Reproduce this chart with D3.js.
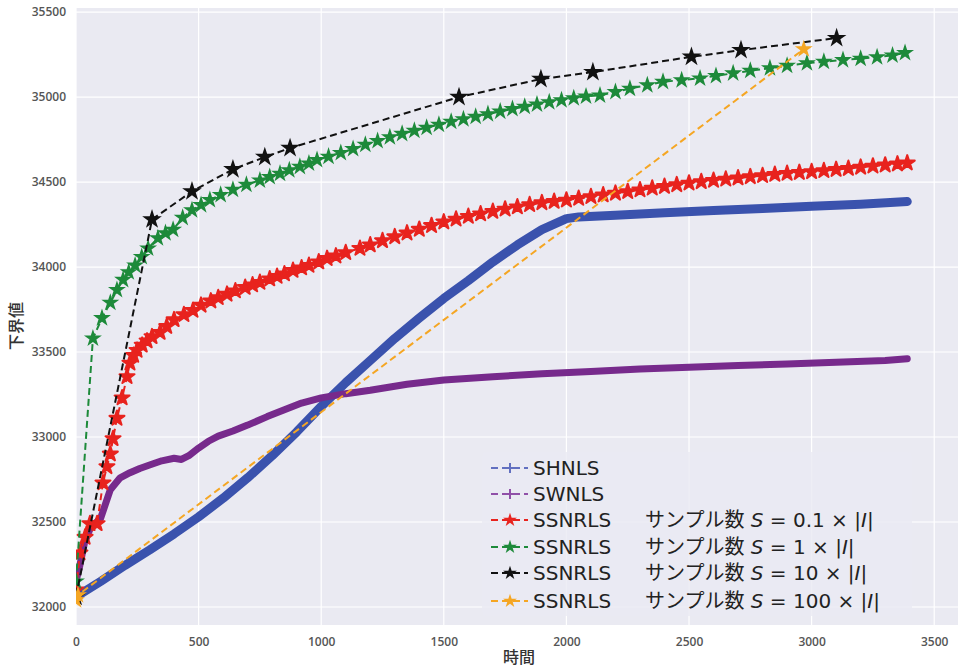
<!DOCTYPE html>
<html lang="ja">
<head>
  <meta charset="UTF-8">
  <title>下界値 vs 時間</title>
  <style>
    body { margin: 0; background: #fff; }
    svg { display: block; }
    .tick text { font-family: "Open Sans", "DejaVu Sans", sans-serif; font-size: 12px; fill: #555; font-weight: 600; }
    .legend text { font-family: "DejaVu Sans", "Noto Sans CJK JP", sans-serif; font-size: 20px; fill: #222; }
    .axis-title { font-family: "Noto Sans CJK JP", sans-serif; font-size: 16px; fill: #333; font-weight: 500; }
  </style>
  <script src="https://d3js.org/d3.v7.min.js"></script>
</head>
<body>
  <svg width="960" height="668"></svg>
  <script>
    // ---- data ----
    const xTicks = [0, 500, 1000, 1500, 2000, 2500, 3000, 3500];
    const yTicks = [32000, 32500, 33000, 33500, 34000, 34500, 35000, 35500];

    const shnlsT = [0, 100, 200, 300, 400, 500, 600, 700, 800, 900, 1000, 1100, 1200, 1300, 1400, 1500, 1600, 1700, 1800, 1900, 2000, 2050, 2200, 2400, 2600, 2800, 3000, 3200, 3390];
    const shnlsV = [32060, 32150, 32245, 32335, 32430, 32530, 32640, 32760, 32890, 33030, 33180, 33320, 33450, 33580, 33700, 33815, 33920, 34030, 34130, 34220, 34285, 34295, 34305, 34320, 34333, 34345, 34358, 34370, 34385];

    const swnlsT = [0, 15, 35, 60, 100, 140, 180, 220, 260, 300, 350, 400, 430, 460, 500, 540, 580, 640, 700, 780, 850, 920, 1000, 1100, 1200, 1350, 1500, 1700, 1900, 2100, 2300, 2500, 2700, 2900, 3100, 3300, 3390];
    const swnlsV = [32150, 32240, 32380, 32470, 32520, 32690, 32760, 32790, 32815, 32835, 32860, 32875, 32868, 32890, 32935, 32975, 33005, 33035, 33070, 33120, 33160, 33200, 33230, 33255, 33275, 33310, 33335, 33355, 33372, 33385, 33400, 33410, 33420, 33430, 33440, 33450, 33460];

    const s01T = [0, 16, 37, 57, 86, 110, 126, 140, 151, 167, 188, 208, 220, 235, 249, 270, 290, 310, 343, 370, 400, 440, 477, 510, 550, 580, 616, 650, 690, 720, 750, 790, 820, 850, 885, 920, 950, 990, 1024, 1060, 1100, 1158,
      1200, 1250, 1300, 1350, 1400, 1450, 1500, 1550, 1600, 1650, 1700, 1750, 1800, 1850, 1900, 1950, 2000, 2050, 2100, 2150, 2200, 2250, 2300, 2350, 2400, 2450, 2500, 2550, 2600, 2650, 2700, 2750, 2800, 2850, 2900, 2950, 3000, 3050, 3100, 3150, 3200, 3250, 3300, 3350, 3390];
    const s01V = [32100, 32318, 32410, 32490, 32490, 32730, 32825, 32900, 32990, 33110, 33230, 33355, 33435, 33480, 33510, 33540, 33565, 33590, 33615, 33650, 33690, 33720, 33745, 33775, 33800, 33820, 33840, 33860, 33880, 33895, 33910, 33930, 33945, 33960, 33980, 33995, 34010, 34030, 34050, 34065, 34085, 34110,
      34130, 34155, 34178, 34200, 34222, 34244, 34265, 34282, 34298, 34313, 34327, 34341, 34354, 34367, 34378, 34386, 34394, 34404, 34414, 34424, 34434, 34444, 34454, 34464, 34474, 34484, 34494, 34502, 34510, 34517, 34524, 34531, 34538, 34545, 34551, 34556, 34561, 34567, 34574, 34580, 34587, 34594, 34600, 34606, 34612];

    const s1T = [0, 69, 106, 140, 167, 192, 215, 241, 268, 294, 334, 365, 396, 435, 473, 510, 546, 590, 640, 695, 750, 790, 832, 870, 913, 950, 983, 1030, 1080, 1130, 1180, 1230, 1280, 1330, 1380, 1430, 1480, 1530, 1580, 1630, 1680, 1730, 1780, 1830, 1880, 1930, 1980, 2030, 2080, 2137, 2200, 2259, 2330, 2394, 2470, 2545, 2610, 2680, 2750, 2830, 2900, 2981, 3050, 3128, 3200, 3267, 3330, 3381];
    const s1V = [32150, 33580, 33700, 33790, 33865, 33925, 33970, 34010, 34060, 34110, 34170, 34200, 34220, 34290, 34335, 34365, 34395, 34425, 34455, 34485, 34510, 34530, 34550, 34570, 34590, 34610, 34630, 34650, 34672, 34695, 34720, 34742, 34764, 34784, 34802, 34820, 34838, 34855, 34870, 34885, 34900, 34915, 34930, 34944, 34957, 34970, 34982, 34994, 35004, 35010, 35030, 35050, 35070, 35090, 35100, 35110, 35125, 35140, 35155, 35170, 35185, 35200, 35208, 35218, 35226, 35235, 35245, 35260];

    const s10T = [0, 310, 473, 640, 770, 873, 1562, 1896, 2108, 2510, 2712, 3102];
    const s10V = [32060, 34280, 34445, 34575, 34647, 34700, 35000, 35106, 35147, 35237, 35276, 35347];

    const s100T = [0, 8, 2968];
    const s100V = [32040, 32070, 35282];

    const series = [
      { t: shnlsT, v: shnlsV, color: "#3a52ad", legColor: "#6270c0", kind: "thick", width: 9, label: "SHNLS" },
      { t: swnlsT, v: swnlsV, color: "#772a8c", legColor: "#9050a8", kind: "thick", width: 7, label: "SWNLS" },
      { t: s01T, v: s01V, color: "#e8231e", kind: "star", size: 70, stroke: 2, label: "0.1" },
      { t: s1T, v: s1V, color: "#1d8a3a", kind: "star", size: 100, stroke: 0, label: "1" },
      { t: s10T, v: s10V, color: "#111111", kind: "star", size: 120, stroke: 0, label: "10" },
      { t: s100T, v: s100V, color: "#f5a623", kind: "star", size: 100, stroke: 0, label: "100" }
    ];

    // ---- layout ----
    const svg = d3.select("svg");
    const mLeft = 76, mRight = 958, mTop = 8, mBottom = 625;

    const x = d3.scaleLinear().domain([0, 3597]).range([mLeft, mRight]);
    const y = d3.scaleLinear().domain([31894, 35524]).range([mBottom, mTop]);

    svg.append("rect")
      .attr("x", mLeft).attr("y", mTop)
      .attr("width", mRight - mLeft).attr("height", mBottom - mTop)
      .attr("fill", "#eaeaf2");

    svg.append("clipPath").attr("id", "clip")
      .append("rect").attr("x", mLeft).attr("y", mTop)
      .attr("width", mRight - mLeft).attr("height", mBottom - mTop);

    // grid
    const grid = svg.append("g");
    grid.selectAll(".gx").data(xTicks).enter().append("line")
      .attr("x1", d => x(d)).attr("x2", d => x(d))
      .attr("y1", mTop).attr("y2", mBottom)
      .attr("stroke", "#fff").attr("stroke-width", 1.2);
    grid.selectAll(".gy").data(yTicks).enter().append("line")
      .attr("x1", mLeft).attr("x2", mRight)
      .attr("y1", d => y(d)).attr("y2", d => y(d))
      .attr("stroke", "#fff").attr("stroke-width", 1.2);

    // axes (labels only, seaborn style)
    const xAxis = svg.append("g")
      .attr("transform", `translate(0,${mBottom})`)
      .call(d3.axisBottom(x).tickValues(xTicks).tickSize(0).tickPadding(12).tickFormat(d3.format("d")));
    xAxis.select(".domain").remove();

    const yAxis = svg.append("g")
      .attr("transform", `translate(${mLeft},0)`)
      .call(d3.axisLeft(y).tickValues(yTicks).tickSize(0).tickPadding(10).tickFormat(d3.format("d")));
    yAxis.select(".domain").remove();

    svg.append("text").attr("class", "axis-title")
      .attr("x", 519).attr("y", 663).attr("text-anchor", "middle")
      .text("時間");
    svg.append("text").attr("class", "axis-title")
      .attr("transform", "translate(22,326) rotate(-90)")
      .attr("text-anchor", "middle")
      .text("下界値");

    // series
    const plot = svg.append("g").attr("clip-path", "url(#clip)");
    const line = d3.line().x(d => x(d[0])).y(d => y(d[1]));
    const star = d3.symbol().type(d3.symbolStar);

    series.forEach(s => {
      const pts = s.t.map((t, i) => [t, s.v[i]]);
      if (s.kind === "thick") {
        plot.append("path").datum(pts)
          .attr("d", line)
          .attr("fill", "none")
          .attr("stroke", s.color)
          .attr("stroke-width", s.width)
          .attr("stroke-linejoin", "round")
          .attr("stroke-linecap", "round");
      } else {
        plot.append("path").datum(pts)
          .attr("d", line)
          .attr("fill", "none")
          .attr("stroke", s.color)
          .attr("stroke-width", 2)
          .attr("stroke-dasharray", "7,4");
        plot.selectAll(null).data(pts).enter().append("path")
          .attr("transform", d => `translate(${x(d[0])},${y(d[1])})`)
          .attr("d", star.size(s.size))
          .attr("fill", s.color)
          .attr("stroke", s.stroke ? s.color : "none")
          .attr("stroke-width", s.stroke)
          .attr("stroke-linejoin", "round");
      }
    });

    // legend
    const legend = svg.append("g").attr("class", "legend");
    legend.append("rect")
      .attr("x", 482).attr("y", 452)
      .attr("width", 430).attr("height", 164)
      .attr("rx", 4)
      .attr("fill", "#eaeaf2").attr("fill-opacity", 0.8);

    const rowY = [468, 494, 520, 547, 573, 601];
    series.forEach((s, i) => {
      const g = legend.append("g").attr("transform", `translate(0,${rowY[i]})`);
      const c = s.legColor || s.color;
      g.append("line")
        .attr("x1", 491).attr("x2", 528)
        .attr("stroke", c).attr("stroke-width", 2)
        .attr("stroke-dasharray", "7,4");
      if (s.kind === "thick") {
        g.append("path").attr("d", "M505,0H515M510,-5V5")
          .attr("stroke", c).attr("stroke-width", 2);
      } else {
        g.append("path")
          .attr("transform", "translate(510,0)")
          .attr("d", star.size(60))
          .attr("fill", s.color);
      }
      const txt = g.append("text").attr("x", 533).attr("dy", "0.36em");
      if (s.kind === "thick") {
        txt.text(s.label);
      } else {
        txt.append("tspan").text("SSNRLS");
        txt.append("tspan").attr("x", 645).text("サンプル数 ");
        txt.append("tspan").attr("font-style", "italic").text("S");
        txt.append("tspan").text(` = ${s.label} × |`);
        txt.append("tspan").attr("font-style", "italic").text("I");
        txt.append("tspan").text("|");
      }
    });
  </script>
</body>
</html>
